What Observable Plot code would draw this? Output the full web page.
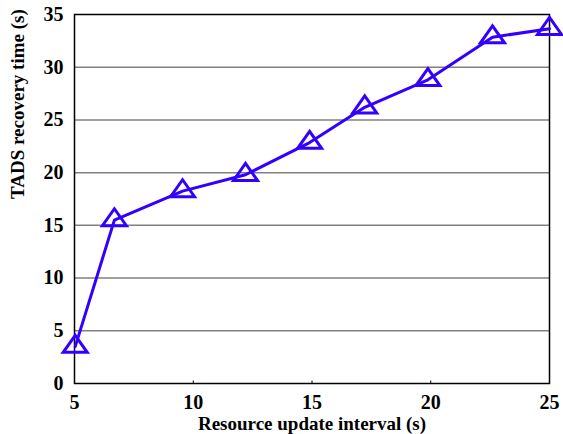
<!DOCTYPE html>
<html>
<head>
<meta charset="utf-8">
<script src="https://cdn.jsdelivr.net/npm/d3@7"></script>
<script src="https://cdn.jsdelivr.net/npm/@observablehq/plot@0.6"></script>
<style>
  html, body { margin: 0; padding: 0; background: #fff; }
  svg text { font-weight: bold; }
</style>
</head>
<body>
<div id="chart"></div>
<script>
const intervals = [5.03, 6.68, 9.55, 12.2, 14.9, 17.22, 19.88, 22.6, 25.0];
const recoveryTimes = [3.5, 15.5, 18.25, 19.8, 22.85, 26.2, 28.8, 32.85, 33.65];
const xTicks = [5, 10, 15, 20, 25];
const yTicks = [0, 5, 10, 15, 20, 25, 30, 35];
const gridTicks = [5, 10, 15, 20, 25, 30];
const minorXTicks = [10, 15, 20];
const xLabel = "Resource update interval (s)";
const yLabel = "TADS recovery time (s)";

const data = intervals.map((x, i) => ({x, y: recoveryTimes[i]}));
const blue = "#3300ff";

const triangle = {
  draw(context) {
    const w = 24, h = 17;
    context.moveTo(0, -2 * h / 3);
    context.lineTo(w / 2, h / 3);
    context.lineTo(-w / 2, h / 3);
    context.closePath();
  }
};
const innerTick = {
  draw(context) {
    context.moveTo(0, 0);
    context.lineTo(0, -3);
  }
};

const chart = Plot.plot({
  width: 563,
  height: 434,
  marginLeft: 74,
  marginRight: 14,
  marginTop: 14,
  marginBottom: 51,
  style: {fontFamily: "'Liberation Serif', 'Times New Roman', serif", fontSize: "20px", fontWeight: "bold", color: "#000", background: "#fff"},
  x: {domain: [5, 25], ticks: xTicks},
  y: {domain: [0, 35], ticks: yTicks},
  marks: [
    Plot.gridY(gridTicks, {stroke: "#808080", strokeOpacity: 1, strokeWidth: 1.5}),
    Plot.axisX(xTicks, {tickSize: 0, tickPadding: 11, label: null, fontSize: 20, fontWeight: "bold"}),
    Plot.axisY(yTicks, {tickSize: 0, tickPadding: 11, label: null, fontSize: 20, fontWeight: "bold"}),
    Plot.dot(minorXTicks, {x: d => d, frameAnchor: "bottom", symbol: innerTick, stroke: "#000", strokeWidth: 1}),
    Plot.frame({stroke: "#000", strokeWidth: 1.5}),
    Plot.line(data, {x: "x", y: "y", stroke: blue, strokeWidth: 3}),
    Plot.dot(data, {x: "x", y: "y", symbol: triangle, r: 10, stroke: blue, strokeWidth: 3, fill: "none"}),
    Plot.text([xLabel], {frameAnchor: "bottom", lineAnchor: "middle", dy: 40, fontSize: 19, fontWeight: "bold"}),
    Plot.text([yLabel], {frameAnchor: "left", dx: -57, rotate: -90, fontSize: 19, fontWeight: "bold"})
  ]
});
document.getElementById("chart").appendChild(chart);
</script>
</body>
</html>
